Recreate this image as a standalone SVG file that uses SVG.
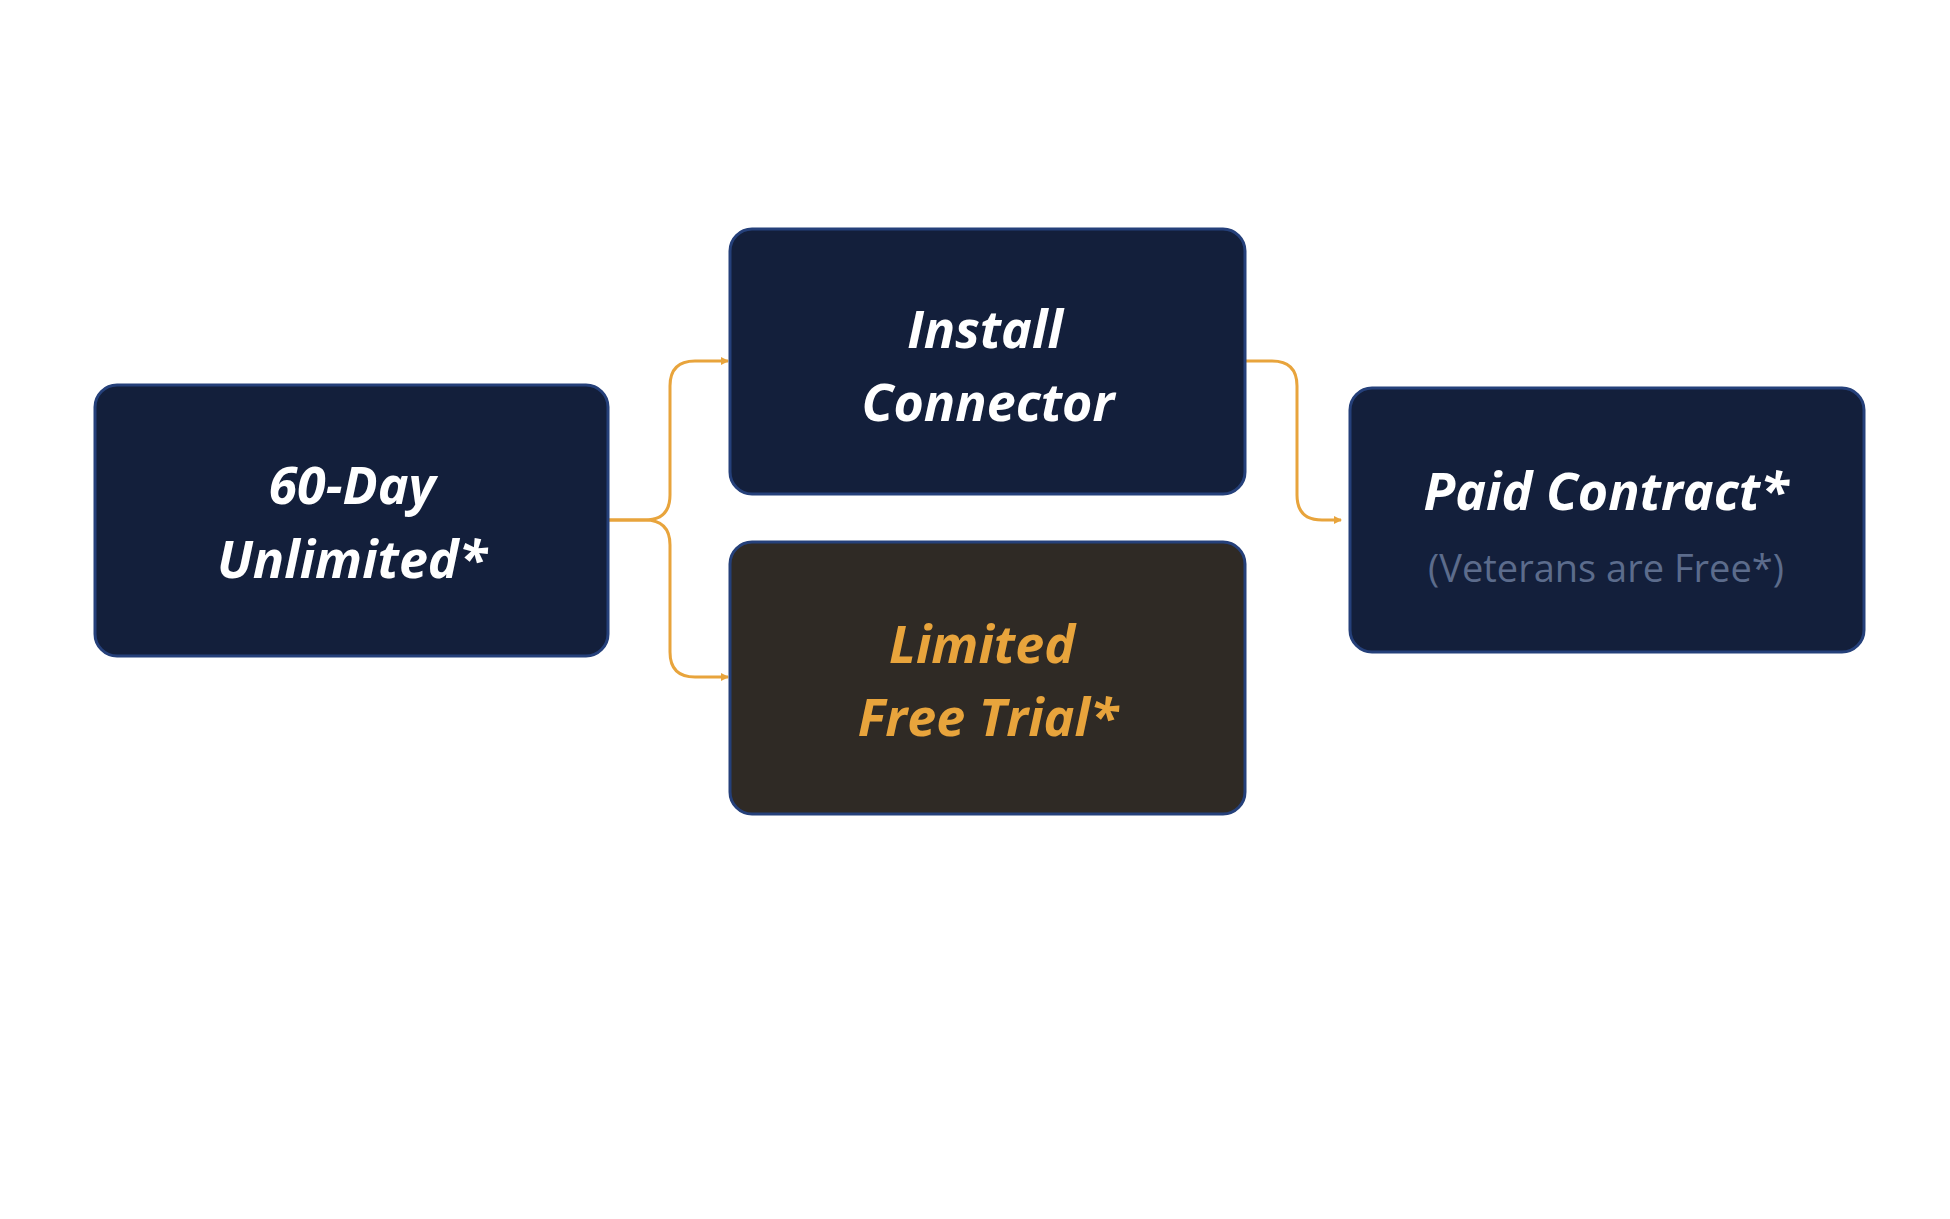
<svg xmlns="http://www.w3.org/2000/svg" width="1950" height="1219" viewBox="0 0 1950 1219">
<style>
.box{fill:#131f3b;stroke:#25407a;stroke-width:3}
.t{font-family:"Open Sans","Liberation Sans",sans-serif;font-weight:bold;font-style:italic;font-size:52px;fill:#fff;text-anchor:middle}
.c{fill:none;stroke:#e8a43c;stroke-width:3}
</style>
<defs><marker id="a" markerWidth="8" markerHeight="8" refX="7" refY="4" orient="auto" markerUnits="userSpaceOnUse"><path d="M0,0L8,4L0,8z" fill="#e8a43c"/></marker></defs>
<rect width="1950" height="1219" fill="#fff"/>
<g id="connectors">
<path class="c" d="M608,520H645Q670,520 670,495V386Q670,361 695,361H728" marker-end="url(#a)"/>
<path class="c" d="M608,520H645Q670,520 670,545V652Q670,677 695,677H728" marker-end="url(#a)"/>
<path class="c" d="M1245,361H1272Q1297,361 1297,386V495Q1297,520 1322,520H1341" marker-end="url(#a)"/>
</g>
<g id="n1"><rect class="box" x="95" y="385" width="513" height="271" rx="22"/>
<text class="t" x="352" y="504">60-Day</text><text class="t" x="352" y="578">Unlimited*</text></g>
<g id="n2"><rect class="box" x="730" y="229" width="515" height="265" rx="22"/>
<text class="t" x="985" y="348">Install</text><text class="t" x="988" y="421">Connector</text></g>
<g id="n3"><rect class="box" style="fill:#2f2a25" x="730" y="542" width="515" height="272" rx="22"/>
<text class="t" style="fill:#e8a43c" x="982" y="663">Limited</text><text class="t" style="fill:#e8a43c" x="988" y="736">Free Trial*</text></g>
<g id="n4"><rect class="box" x="1350" y="388" width="514" height="264" rx="22"/>
<text class="t" x="1606" y="510">Paid Contract*</text>
<text x="1606" y="582" style="font-family:'Open Sans','Liberation Sans',sans-serif;font-size:38px;fill:#5c6c8c;text-anchor:middle">(Veterans are Free*)</text></g>
</svg>
